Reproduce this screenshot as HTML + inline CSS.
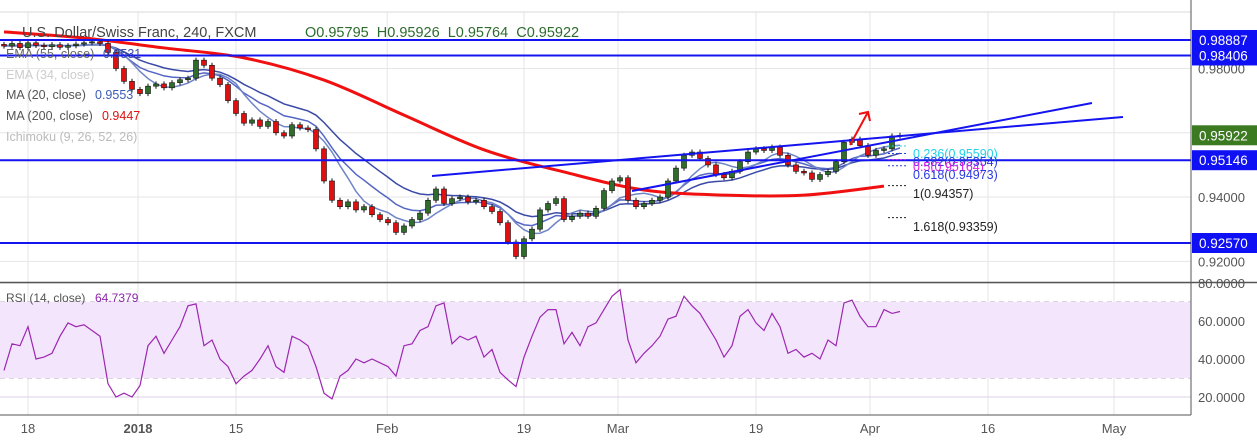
<!DOCTYPE html>
<html><head><meta charset="utf-8">
<style>
html,body{margin:0;padding:0;background:#fff;}
svg{display:block;font-family:"Liberation Sans",sans-serif;}
</style></head>
<body>
<svg id="chart" width="1257" height="440" viewBox="0 0 1257 440" xmlns="http://www.w3.org/2000/svg">
<g id="grid"></g>
<rect x="0" y="302" width="1191" height="76" fill="#f3e6fc"/>
<g id="rsiPane"></g>
<g id="mainPane"></g>
<g id="axes"></g>
</svg>
<script>
const closes=[.9870,.9878,.9865,.9880,.9872,.9868,.9874,.9866,.9871,.9876,.9880,.9883,.9878,.9850,.9800,.9760,.9735,.9722,.9745,.9752,.9740,.9756,.9765,.9770,.9826,.9810,.9770,.9750,.9700,.9660,.9630,.9640,.9620,.9635,.9600,.9590,.9625,.9615,.9610,.9550,.9450,.9390,.9370,.9385,.9360,.9370,.9345,.9330,.9320,.9290,.9310,.9330,.9350,.9390,.9425,.9380,.9395,.9400,.9385,.9390,.9370,.9355,.9320,.9260,.9215,.9270,.9300,.9360,.9380,.9395,.9330,.9340,.9350,.9340,.9365,.9420,.9450,.9460,.9390,.9370,.9380,.9390,.9400,.9450,.9490,.9530,.9540,.9520,.9500,.9470,.9460,.9480,.9510,.9540,.9550,.9545,.9555,.9530,.9500,.9480,.9475,.9455,.9470,.9480,.9510,.9570,.9580,.9560,.9530,.9545,.9550,.9590,.9592];
const ma200=[.9914,.9895,.9864,.9833,.9764,.9655,.9547,.9478,.9422,.9406,.9406,.9434];
const rsi=[34,48,47,57,40,41,43,52,59,57,58,55,52,27,20,22,20,26,47,52,43,50,57,68,69,47,50,40,36,27,31,34,40,47,36,33,52,50,47,36,22,19,31,34,40,38,40,38,36,31,47,48,55,57,68,69.5,48,52,50,52,41,45,33,29,25.5,41,52,62,66,66,48,54,47,57,59,66,73,76.5,50,38,43,47,52,61,62.5,73,68,64,57,50,41,47,62.5,66,59,55,64,57,43,45,41,43,40,50,47,69.5,71,62.5,57,57,66,64,65];
const hLevels=[0.98887,0.98406,0.95146,0.92570];
const priceTicks=[0.98,0.96,0.94,0.92];
const rsiTicks=[80,60,40,20];
const timeLabels=["18","2018","15","Feb","19","Mar","19","Apr","16","May"];
const timeIdx=[3,16.75,29,47.9,65,76.75,94,108.25,123,138.75];
const fibLabels=["0.236(0.95590)","0.382(0.95354)","0.5(0.95164)","0.618(0.94973)","1(0.94357)","1.618(0.93359)"];
const fibPrices=[0.95590,0.95354,0.95164,0.94973,0.94357,0.93359];
const fibColors=["#22d3e6","#2a3be0","#e020e0","#2a3be0","#222","#222"];

const NS="http://www.w3.org/2000/svg";
function el(tag,attrs,parent,text){const e=document.createElementNS(NS,tag);for(const k in attrs)e.setAttribute(k,attrs[k]);if(text!==undefined)e.textContent=text;parent.appendChild(e);return e;}
const py=p=>40+(0.98887-p)*3213.6;
const ry=v=>283+(80-v)*1.9;
const cx=i=>4+i*8;
const grid=document.getElementById('grid'),main=document.getElementById('mainPane'),rp=document.getElementById('rsiPane'),ax=document.getElementById('axes');
function smoothPath(pts){let d='M'+pts[0][0]+','+pts[0][1];
for(let i=0;i<pts.length-1;i++){const p0=pts[Math.max(0,i-1)],p1=pts[i],p2=pts[i+1],p3=pts[Math.min(pts.length-1,i+2)];
d+=' C'+(p1[0]+(p2[0]-p0[0])/6)+','+(p1[1]+(p2[1]-p0[1])/6)+' '+(p2[0]-(p3[0]-p1[0])/6)+','+(p2[1]-(p3[1]-p1[1])/6)+' '+p2[0]+','+p2[1];}
return d;}

// grid
el('line',{x1:0,y1:12,x2:1257,y2:12,stroke:'#d8d8d8'},grid);
timeIdx.forEach((t,i)=>{const l=el('line',{x1:cx(t),y1:12,x2:cx(t),y2:415,stroke:'#e6e6e6'},grid);

});
priceTicks.forEach(p=>{const l=el('line',{x1:0,y1:py(p),x2:1191,y2:py(p),stroke:'#e6e6e6'},grid);

});
rsiTicks.forEach(v=>{const l=el('line',{x1:0,y1:ry(v),x2:1191,y2:ry(v),stroke:'#ddd0e6'},grid);

});
[70,30].forEach(v=>{const l=el('line',{x1:0,y1:ry(v),x2:1191,y2:ry(v),stroke:'#b8a8c0','stroke-dasharray':'5,4'},grid);

});

// RSI line
const rl=el('polyline',{points:rsi.map((v,i)=>cx(i)+','+ry(v)).join(' '),fill:'none',stroke:'#9c27b0','stroke-width':1.2},rp);



// moving averages (computed from closes)
function ema(n){const k=2/(n+1);let e=closes[0];return closes.map(c=>e=e+(c-e)*k);}
function sma(n){return closes.map((c,i)=>{const s=closes.slice(Math.max(0,i-n+1),i+1);return s.reduce((a,b)=>a+b,0)/s.length;});}
[[ema(17),'#3b4aa6','ema-55'],[ema(10),'#5566c4','ema-34'],[sma(6),'#6f85c8','ma-20']].forEach(([arr,col,nm])=>{
const l=el('polyline',{points:arr.map((v,i)=>cx(i)+','+py(v)).join(' '),fill:'none',stroke:col,'stroke-width':1.5},main);

});
const m2=el('path',{d:smoothPath(ma200.map((v,i)=>[cx(i*10),py(v)])),fill:'none',stroke:'#f01010','stroke-width':3},main);



// candles
closes.forEach((c,i)=>{const o=i?closes[i-1]:c+0.0005;const up=c>=o;
const hi=Math.max(o,c)+0.0008,lo=Math.min(o,c)-0.0008;
const g=el('g',{},main);


el('line',{x1:cx(i),y1:py(hi),x2:cx(i),y2:py(lo),stroke:'#111','stroke-width':1},g);
const t=py(Math.max(o,c)),b=py(Math.min(o,c));
el('rect',{x:cx(i)-2.5,y:t,width:5,height:Math.max(1,b-t),fill:up?'#2f6e2a':'#e01010',stroke:'#111','stroke-width':0.6},g);});

// horizontal levels
hLevels.forEach(p=>{const l=el('line',{x1:0,y1:py(p),x2:1191,y2:py(p),stroke:'#1414f0','stroke-width':2},main);

});

// trend lines
[[432,176,1123,117],[632,191,1092,103]].forEach(a=>{const l=el('line',{x1:a[0],y1:a[1],x2:a[2],y2:a[3],stroke:'#1414f0','stroke-width':2},main);

});
const ar=el('g',{},main);


el('line',{x1:850,y1:145,x2:868,y2:112,stroke:'#f01010','stroke-width':2},ar);
el('polyline',{points:'859,114 868,112 870,121',fill:'none',stroke:'#f01010','stroke-width':2},ar);

// fib
const fibY=[154,162,167,175,194,227];
fibLabels.forEach((t,i)=>{
const l=el('line',{x1:888,y1:py(fibPrices[i]),x2:906,y2:py(fibPrices[i]),stroke:fibColors[i],'stroke-dasharray':'2,2'},main);


const tx=el('text',{x:913,y:fibY[i]+4,'font-size':12.5,fill:fibColors[i]},main,t);

});

// axes
el('rect',{x:1191,y:0,width:66,height:440,fill:'#fff'},ax);
el('line',{x1:1191,y1:0,x2:1191,y2:415,stroke:'#555'},ax);
el('line',{x1:0,y1:282.5,x2:1257,y2:282.5,stroke:'#555','stroke-width':1.5},ax);
el('line',{x1:0,y1:415,x2:1191,y2:415,stroke:'#555'},ax);
priceTicks.forEach(p=>{const t=el('text',{x:1198,y:py(p)+5,'font-size':13,fill:'#555'},ax,p.toFixed(5));

});
rsiTicks.forEach(v=>{const t=el('text',{x:1198,y:ry(v)+5,'font-size':13,fill:'#555'},ax,v.toFixed(4));

});
timeLabels.forEach((s,i)=>{const t=el('text',{x:cx(timeIdx[i]),y:433,'font-size':13,fill:'#555','text-anchor':'middle','font-weight':s==='2018'?'bold':'normal'},ax,s);

});
function badge(p,txt,col){const g=el('g',{},ax);


const y=py(p);el('rect',{x:1192,y:y-10,width:65,height:20,fill:col},g);
el('text',{x:1199,y:y+5,'font-size':13.5,fill:'#fff'},g,txt);}
badge(0.95922,'0.95922','#3c7a22');badge(0.95146,'0.95146','#1010f5');badge(0.92570,'0.92570','#1010f5');badge(0.98406,'0.98406','#1010f5');badge(0.98887,'0.98887','#1010f5');

// legend text
const lg=[["U.S. Dollar/Swiss Franc, 240, FXCM",22,37,14.5,'#444'],["EMA (55, close)",6,58,12.5,'#666'],["0.9531",103,58,12.5,'#3b4aa6'],["EMA (34, close)",6,79,12.5,'#ccc'],["MA (20, close)",6,99,12.5,'#555'],["0.9553",95,99,12.5,'#3b5bb5'],["MA (200, close)",6,120,12.5,'#555'],["0.9447",102,120,12.5,'#e01010'],["Ichimoku (9, 26, 52, 26)",6,141,12.5,'#bbb'],["RSI (14, close)",6,302,12,'#555'],["64.7379",95,302,12,'#8e24aa']];
lg.forEach(a=>{const t=el('text',{x:a[1],y:a[2],'font-size':a[3],fill:a[4]},ax.parentNode,a[0]);

});
const ohlc=el('text',{x:305,y:37,'font-size':14.5,fill:'#2e6b2e'},ax.parentNode,"O0.95795  H0.95926  L0.95764  C0.95922");


ohlc.setAttribute('xml:space','preserve');ohlc.style.whiteSpace='pre';
</script>
</body></html>
